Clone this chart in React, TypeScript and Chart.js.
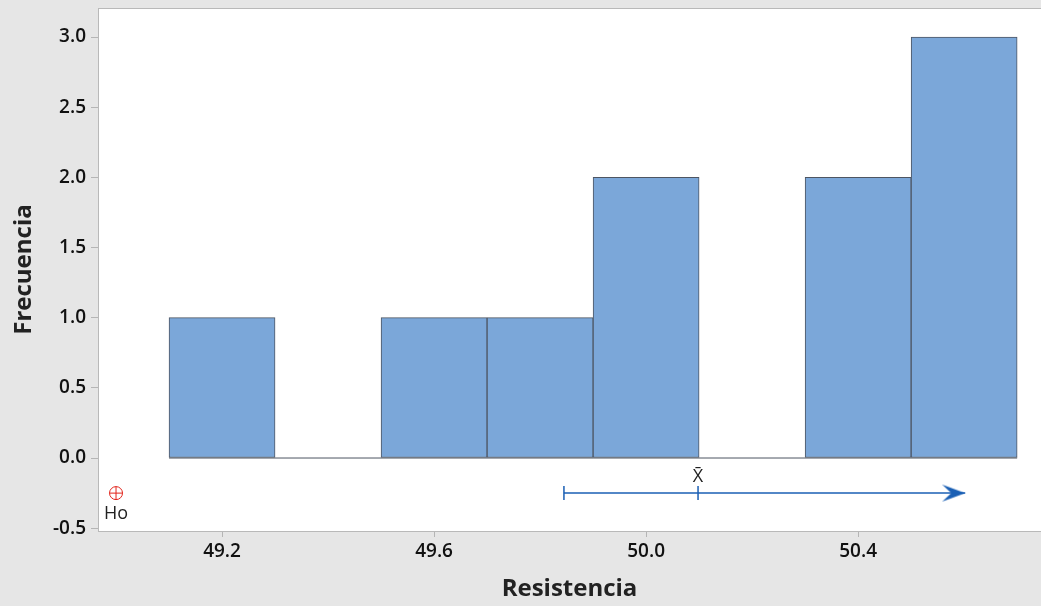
import React, { useEffect, useRef } from "react";
import { Chart, registerables } from "chart.js";

Chart.register(...registerables);

const binCenters = [49.2, 49.4, 49.6, 49.8, 50.0, 50.2, 50.4, 50.6];
const counts = [1, 0, 1, 1, 2, 0, 2, 3];
const baseline = [49.1, 50.7];
const xTicks = [49.2, 49.6, 50.0, 50.4];
const yTicks = [-0.5, 0, 0.5, 1.0, 1.5, 2.0, 2.5, 3.0];
const ciLow = 49.845;
const ciMean = 50.098;
const ciHigh = 50.602;
const ciY = -0.25;
const hoX = 49.0;

function makeArrow(color: string) {
  const c = document.createElement("canvas");
  const len = 23;
  const h = 17;
  c.width = len * 2;
  c.height = h + 2;
  const ctx = c.getContext("2d")!;
  const cy = c.height / 2;
  ctx.fillStyle = color;
  ctx.beginPath();
  ctx.moveTo(len, cy);
  ctx.lineTo(0, cy - h / 2);
  ctx.lineTo(9, cy);
  ctx.lineTo(0, cy + h / 2);
  ctx.closePath();
  ctx.fill();
  return c;
}

const zeroPad = (s: any) => {
  s.paddingTop = 0;
  s.paddingBottom = 0;
  s.paddingLeft = 0;
  s.paddingRight = 0;
};

export default function App() {
  const ref = useRef<HTMLCanvasElement>(null);
  useEffect(() => {
    const blue = "#1a5fb4";
    const red = "#e3241b";
    const font = "'Open Sans', 'Noto Sans', sans-serif";
    const arrow = makeArrow(blue);
    const bgPlugin = {
      id: "bg",
      beforeDraw(chart: any) {
        const { ctx, chartArea: a } = chart;
        ctx.save();
        ctx.fillStyle = "#e6e6e6";
        ctx.fillRect(0, 0, chart.width, chart.height);
        ctx.fillStyle = "#ffffff";
        ctx.fillRect(a.left, a.top, a.right - a.left, a.bottom - a.top);
        ctx.strokeStyle = "#b9b9b9";
        ctx.lineWidth = 1;
        ctx.strokeRect(a.left + 0.5, a.top + 0.5, a.right - a.left, a.bottom - a.top);
        ctx.restore();
      },
      afterDatasetsDraw(chart: any) {
        const { ctx } = chart;
        const xs = chart.scales.x;
        const ys = chart.scales.y;
        ctx.save();
        ctx.fillStyle = "#222222";
        ctx.font = `18px ${font}`;
        ctx.textAlign = "center";
        ctx.textBaseline = "middle";
        ctx.fillText("X\u0304", xs.getPixelForValue(ciMean), ys.getPixelForValue(ciY) - 16);
        ctx.fillText("Ho", xs.getPixelForValue(hoX), ys.getPixelForValue(ciY) + 21);
        ctx.restore();
      },
    };
    const chart = new Chart(ref.current!, {
      type: "bar",
      data: {
        datasets: [
          {
            type: "line",
            data: baseline.map((x) => ({ x, y: 0 })),
            borderColor: "#4d5562",
            borderWidth: 1,
            pointRadius: 0,
            order: 3,
          } as any,
          {
            type: "bar",
            data: binCenters.map((x, i) => ({ x, y: counts[i] })),
            backgroundColor: "#7ba7d9",
            borderColor: "#4d5562",
            borderWidth: 1,
            borderSkipped: false,
            barPercentage: 1,
            categoryPercentage: 1,
            grouped: false,
            order: 2,
          } as any,
          {
            type: "line",
            data: [
              { x: ciLow, y: ciY },
              { x: ciHigh, y: ciY },
            ],
            borderColor: blue,
            borderWidth: 1.5,
            pointRadius: 0,
            order: 1,
          } as any,
          {
            type: "line",
            data: [
              { x: ciLow, y: ciY },
              { x: ciMean, y: ciY },
            ],
            showLine: false,
            pointStyle: "line",
            rotation: 90,
            pointRadius: 7,
            borderColor: blue,
            pointBorderWidth: 1.5,
            order: 1,
          } as any,
          {
            type: "line",
            data: [{ x: ciHigh, y: ciY }],
            showLine: false,
            pointStyle: arrow,
            order: 1,
          } as any,
          {
            type: "line",
            data: [{ x: hoX, y: ciY }],
            showLine: false,
            pointStyle: "circle",
            pointRadius: 6.5,
            pointBorderColor: red,
            pointBackgroundColor: "rgba(0,0,0,0)",
            pointBorderWidth: 1,
            order: 1,
          } as any,
          {
            type: "line",
            data: [{ x: hoX, y: ciY }],
            showLine: false,
            pointStyle: "cross",
            pointRadius: 6.5,
            pointBorderColor: red,
            pointBorderWidth: 1,
            order: 1,
          } as any,
        ],
      },
      options: {
        animation: false,
        responsive: false,
        layout: { autoPadding: false, padding: { top: 8, right: 0, left: 0, bottom: 0 } },
        plugins: { legend: { display: false }, tooltip: { enabled: false } },
        scales: {
          x: {
            type: "linear",
            min: 48.966,
            max: 50.745,
            offset: false,
            grid: { display: true, offset: false, drawOnChartArea: false, drawTicks: true, tickLength: 6, color: "#b5b5b5" },
            border: { display: true, color: "#b9b9b9" },
            afterBuildTicks: (s: any) => {
              s.ticks = xTicks.map((v) => ({ value: v }));
            },
            afterFit: (s: any) => {
              s.height = 75;
              zeroPad(s);
            },
            ticks: {
              callback: (v: any) => Number(v).toFixed(1),
              color: "#111111",
              font: { family: font, size: 19, weight: "600" },
              padding: 3,
              maxRotation: 0,
              autoSkip: false,
            },
            title: {
              display: true,
              text: "Resistencia",
              color: "#222222",
              font: { family: font, size: 24, weight: "bold" },
              padding: { top: 0, bottom: 2 },
            },
          },
          y: {
            type: "linear",
            min: -0.52,
            max: 3.207,
            grid: { display: true, offset: false, drawOnChartArea: false, drawTicks: true, tickLength: 7, color: "#b5b5b5" },
            border: { display: true, color: "#b9b9b9" },
            afterBuildTicks: (s: any) => {
              s.ticks = yTicks.map((v) => ({ value: v }));
            },
            afterFit: (s: any) => {
              s.width = 98;
              zeroPad(s);
            },
            ticks: {
              callback: (v: any) => Number(v).toFixed(1),
              color: "#111111",
              font: { family: font, size: 19, weight: "600" },
              padding: 5,
              autoSkip: false,
            },
            title: {
              display: true,
              text: "Frecuencia",
              color: "#222222",
              font: { family: font, size: 24, weight: "bold" },
              padding: { top: 10, bottom: 0 },
            },
          },
        },
      },
      plugins: [bgPlugin],
    } as any);
    return () => chart.destroy();
  }, []);
  return (
    <div style={{ position: "absolute", left: 0, top: 0, width: 1041, height: 606 }}>
      <canvas ref={ref} width={1041} height={606} style={{ display: "block" }} />
    </div>
  );
}
